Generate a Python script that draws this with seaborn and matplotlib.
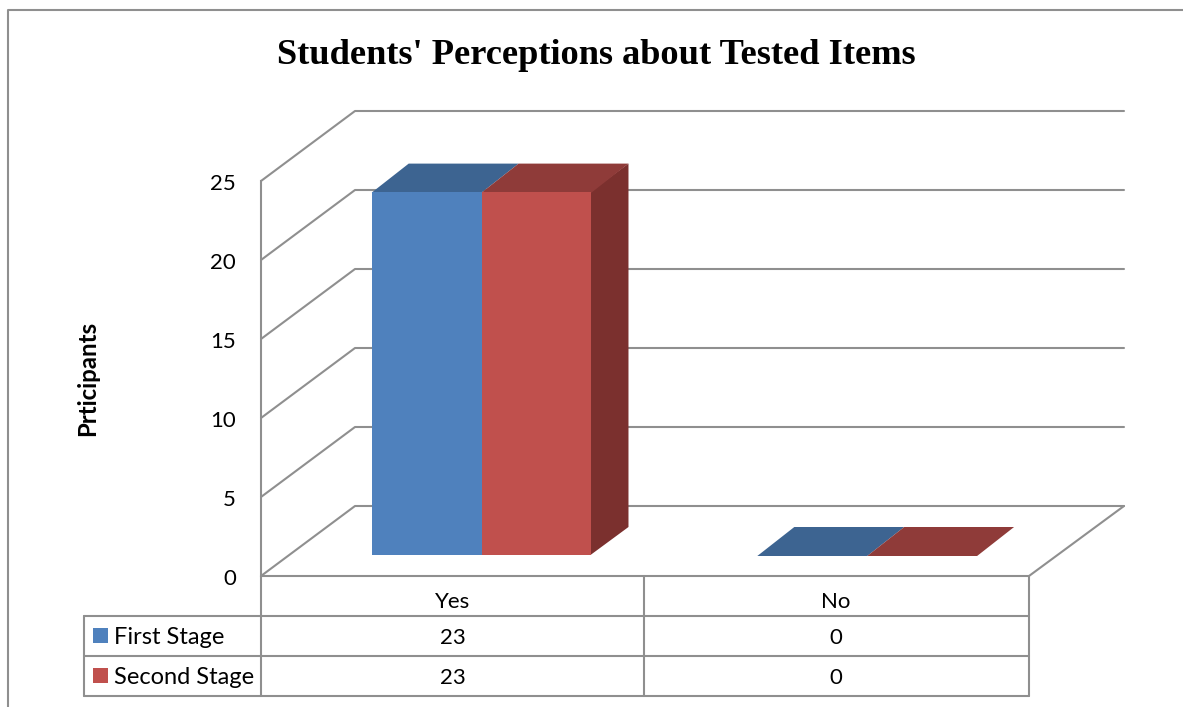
import matplotlib
matplotlib.use("Agg")
import matplotlib.pyplot as plt
from matplotlib.patches import Polygon, Rectangle
from matplotlib.transforms import ScaledTranslation
import pandas as pd
import seaborn as sns

categories = ["Yes", "No"]
stages = ["First Stage", "Second Stage"]
first_stage = [23, 0]
second_stage = [23, 0]
value_ticks = [0, 5, 10, 15, 20, 25]

W, H = 1183, 707
GREY = "#8f8f8f"
FRONT = ["#4F81BD", "#C0504D"]
TOP = ["#3D6491", "#8F3B39"]
SIDE = "#7B302E"
DEPTH_X, DEPTH_Y = 37, 28          # extrusion of the bars
WALL_X, WALL_Y = 94, 70            # depth of the floor and side wall
LW = 1.5

sns.set_theme(style="white")
plt.rcParams["font.family"] = ["Lato", "DejaVu Sans"]

fig = plt.figure(figsize=(W / 100, H / 100), dpi=100, facecolor="white")


def axes_from_pixels(left, top, right, bottom, **kw):
    return fig.add_axes([left / W, 1 - bottom / H, (right - left) / W, (bottom - top) / H], **kw)


def to_pixels(ax, x, y):
    px, py = ax.transData.transform((x, y))
    return px, H - py


# Pixel-space layer for the frame, the floor, the walls and the table
bg = fig.add_axes([0, 0, 1, 1], zorder=0)
bg.set_xlim(0, W)
bg.set_ylim(H, 0)
bg.axis("off")

# Front plane of the chart, holding the value axis
wall = axes_from_pixels(261, 181, 1029, 576, zorder=1)
wall.patch.set_alpha(0)
wall.set_xlim(0, 1)
wall.set_ylim(0, 25)
wall.set_xticks([])
wall.set_yticks(value_ticks)
wall.tick_params(axis="y", length=0, pad=18, labelsize=16, labelcolor="black")
nudge = ScaledTranslation(0, -0.7 / 72, fig.dpi_scale_trans)
for label in wall.get_yticklabels():
    label.set_transform(label.get_transform() + nudge)
for name, spine in wall.spines.items():
    spine.set_visible(name == "left")
    spine.set_color(GREY)
    spine.set_linewidth(LW)
wall.set_ylabel("Prticipants", fontsize=17.3, fontweight="bold", color="black", labelpad=0)
wall.yaxis.set_label_coords((99 - 261) / 768, 0.50)

# Gridlines run over the side wall and along the back wall
for tick in value_ticks:
    _, y = to_pixels(wall, 0, tick)
    bg.plot([261, 261 + WALL_X, 1124], [y, y - WALL_Y, y - WALL_Y], color=GREY, lw=LW, zorder=1)
bg.plot([261, 1029, 1124], [576, 576, 506], color=GREY, lw=LW, zorder=1)

# Bars stand a little behind the front edge of the floor
frame = pd.DataFrame({
    "Response": categories * 2,
    "Participants": first_stage + second_stage,
    "Stage": [stages[0]] * 2 + [stages[1]] * 2,
})
bars = axes_from_pixels(288.8, 160, 1060, 555, zorder=2)
bars.patch.set_alpha(0)
sns.barplot(data=frame, x="Response", y="Participants", hue="Stage", palette=FRONT,
            saturation=1, width=220 / 386, gap=0, legend=False, ax=bars, linewidth=0)
bars.set_xlim(-0.5, 1.5)
bars.set_ylim(0, 25)
bars.axis("off")
fig.canvas.draw()

# Extrude every bar into the depth of the chart; only the rightmost series shows a side face
for index, (container, top_col) in enumerate(zip(bars.containers, TOP)):
    for rect in container:
        x0, y_base = to_pixels(bars, rect.get_x(), 0)
        x1, y_top = to_pixels(bars, rect.get_x() + rect.get_width(), rect.get_height())
        if index == len(TOP) - 1:
            # Slip slightly under the front face so no seam shows along the shared edge
            bg.add_patch(Polygon([(x1 - 1, y_top), (x1 + DEPTH_X, y_top - DEPTH_Y),
                                  (x1 + DEPTH_X, y_base - DEPTH_Y), (x1 - 1, y_base)],
                                 fc=SIDE, lw=0, zorder=3))
        bg.add_patch(Polygon([(x0, y_top + 1), (x0 + DEPTH_X, y_top - DEPTH_Y),
                              (x1 + DEPTH_X, y_top - DEPTH_Y), (x1, y_top + 1)],
                             fc=top_col, lw=0, zorder=4))

# Data table under the chart
for x in (644, 1029):
    bg.plot([x, x], [576, 696], color=GREY, lw=LW)
bg.plot([261, 261], [576, 696], color=GREY, lw=LW)
bg.plot([84, 84], [616, 696], color=GREY, lw=LW)
for y in (616, 656, 696):
    bg.plot([84, 1029], [y, y], color=GREY, lw=LW)

cell_font = dict(ha="center", va="center", fontsize=16, color="black")
for x, label, v1, v2 in zip((452.5, 836), categories, first_stage, second_stage):
    bg.text(x, 601.5, label, **cell_font)
    bg.text(x, 637.5, str(v1), **cell_font)
    bg.text(x, 677.5, str(v2), **cell_font)
for y, label, colour in zip((635.5, 675.5), stages, FRONT):
    bg.add_patch(Rectangle((93, y - 7.5), 15, 15, fc=colour, lw=0))
    bg.text(114, y + 1.5, label, ha="left", va="center", fontsize=17, color="black")

# Outer frame, open at the right and bottom
bg.plot([8, 8, W], [H, 9.5, 9.5], color=GREY, lw=LW)

bg.text(596, 55.5, "Students' Perceptions about Tested Items", ha="center", va="center",
        fontsize=26.2, fontweight="bold", family="Liberation Serif", color="black")

fig.savefig("out.png", dpi=100)
